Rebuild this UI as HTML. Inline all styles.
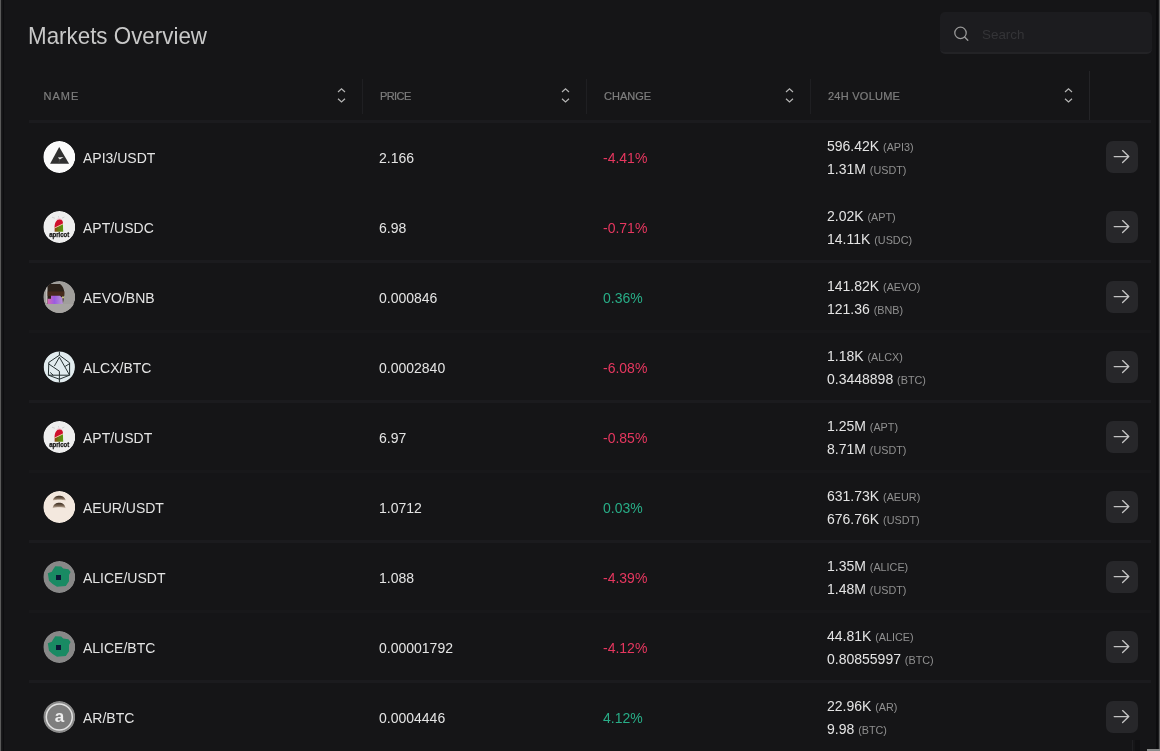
<!DOCTYPE html>
<html><head><meta charset="utf-8"><title>Markets Overview</title>
<style>
*{margin:0;padding:0;box-sizing:border-box}
html,body{width:1160px;height:751px;overflow:hidden;background:#151517}
body{position:relative;font-family:"Liberation Sans",sans-serif;color:#e2e2e2}
.edgeL{position:absolute;left:0;top:0;width:1px;height:751px;background:#5a5a5a}
.edgeL2{position:absolute;left:1px;top:0;width:1px;height:751px;background:#1a1a1c}
.edgeL3{position:absolute;left:3px;top:0;width:1px;height:751px;background:#0d0d0f}
.edgeR{position:absolute;left:1156px;top:0;width:2px;height:751px;background:#0c0c0e}
.edgeR2{position:absolute;left:1158px;top:0;width:1px;height:751px;background:#1a1a1c}
.edgeR3{position:absolute;left:1159px;top:0;width:1px;height:751px;background:#5a5a5a}
h1{position:absolute;left:28.2px;top:21.5px;font-size:24px;font-weight:normal;color:#c8c8c8;line-height:28px;white-space:nowrap;transform:scaleX(.932);transform-origin:0 0}
.search{position:absolute;left:940px;top:12px;width:212px;height:42px;background:#1c1c1f;border-radius:5px;border-bottom:2px solid #232326}
.search svg{position:absolute;left:12.5px;top:14px}
.search span{position:absolute;left:42px;top:14.5px;font-size:13.4px;color:#343437;line-height:16px}
.th{position:absolute;top:90px;font-size:11px;color:#7e7e7e;line-height:12px;letter-spacing:.8px;white-space:nowrap;-webkit-text-stroke:.2px #7e7e7e}
.sort{position:absolute;top:87px}
.vsep{position:absolute;top:79px;width:1px;height:35px;background:#1f1f22}
.vsep.l{top:71px;height:49px;background:#242427}
.hsep{position:absolute;left:29px;width:1122px;height:3px;background:#1b1b1e}
.hsep.f{background:#18181a}
.row{position:absolute;left:0;width:1160px;height:70px}
.ic{position:absolute;left:43px;top:-16px;width:32px;height:32px;clip-path:circle(16px at 16.3px 16px)}
.t{position:absolute;font-size:14px;line-height:16px;white-space:nowrap;color:#e4e4e4}
.pair{left:83px;top:-7px}
.price{left:379px;top:-7px}
.chg{left:603px;top:-7px}
.neg{color:#e6375f}
.pos{color:#28ad87}
.v1{left:827px;top:-19px}
.v2{left:827px;top:4px}
.t small{font-size:10.8px;color:#909090}
.btn{position:absolute;left:1106px;top:-16px;width:32px;height:32px;background:#27272a;border-radius:7px}
.btn svg{position:absolute;left:0;top:0}
</style></head><body>
<div class="edgeL"></div><div class="edgeL2"></div><div class="edgeL3"></div>
<div class="edgeR"></div><div class="edgeR2"></div><div class="edgeR3"></div>
<div style="position:absolute;left:1147px;top:749px;width:13px;height:2px;background:#8a8a8a"></div>
<div style="position:absolute;left:1132px;top:740px;width:1px;height:11px;background:#1f1f22"></div>
<div style="position:absolute;left:1135px;top:740px;width:5px;height:11px;background:#101012"></div>

<h1>Markets Overview</h1>
<div class="search">
<svg width="16" height="16" viewBox="0 0 16 16"><circle cx="7.5" cy="6.9" r="5.7" fill="none" stroke="#9a9a9a" stroke-width="1.25"/><line x1="11.6" y1="11" x2="14.8" y2="14.3" stroke="#9a9a9a" stroke-width="1.35" stroke-linecap="round"/></svg>
<span>Search</span>
</div>

<div class="th" style="left:43.6px;letter-spacing:1px">NAME</div>
<div class="th" style="left:380px;letter-spacing:-.6px">PRICE</div>
<div class="th" style="left:604px;letter-spacing:0">CHANGE</div>
<div class="th" style="left:828px;letter-spacing:.25px">24H VOLUME</div>

<svg class="sort" style="left:337px" width="9" height="17" viewBox="0 0 9 17"><path d="M1 5 L4.5 1.8 L8 5 M1 11.8 L4.5 15 L8 11.8" fill="none" stroke="#b4b4b4" stroke-width="1.2"/></svg>
<svg class="sort" style="left:561px" width="9" height="17" viewBox="0 0 9 17"><path d="M1 5 L4.5 1.8 L8 5 M1 11.8 L4.5 15 L8 11.8" fill="none" stroke="#b4b4b4" stroke-width="1.2"/></svg>
<svg class="sort" style="left:785px" width="9" height="17" viewBox="0 0 9 17"><path d="M1 5 L4.5 1.8 L8 5 M1 11.8 L4.5 15 L8 11.8" fill="none" stroke="#b4b4b4" stroke-width="1.2"/></svg>
<svg class="sort" style="left:1064px" width="9" height="17" viewBox="0 0 9 17"><path d="M1 5 L4.5 1.8 L8 5 M1 11.8 L4.5 15 L8 11.8" fill="none" stroke="#b4b4b4" stroke-width="1.2"/></svg>

<div class="vsep" style="left:362px"></div>
<div class="vsep" style="left:586px"></div>
<div class="vsep" style="left:810px"></div>
<div class="vsep l" style="left:1089px"></div>

<div class="hsep" style="top:120px"></div>
<div class="hsep" style="top:260px"></div>
<div class="hsep f" style="top:330px"></div>
<div class="hsep" style="top:400px"></div>
<div class="hsep f" style="top:470px"></div>
<div class="hsep" style="top:540px"></div>
<div class="hsep f" style="top:610px"></div>
<div class="hsep" style="top:680px"></div>

<!-- ROWS -->
<div class="row" style="top:157px">
<svg class="ic" viewBox="0 0 32 32"><circle cx="16.3" cy="16" r="16" fill="#fafafa"/><path d="M16.2 6.1 L26.1 22.8 L7.1 22.8Z" fill="#2f2f2f"/><path d="M14.8 16.4 L20.6 16 L16.8 18.6Z" fill="#e8e8e8"/><path d="M16.8 18.6 L15.6 22.8" stroke="#555" stroke-width=".6"/></svg>
<div class="t pair">API3/USDT</div>
<div class="t price">2.166</div>
<div class="t chg neg">-4.41%</div>
<div class="t v1">596.42K <small>(API3)</small></div>
<div class="t v2">1.31M <small>(USDT)</small></div>
<div class="btn"><svg width="32" height="32" viewBox="0 0 32 32"><path d="M8.2 15.6 L22.8 15.6 M16.6 9.6 L22.8 15.6 L16.6 21.6" fill="none" stroke="#c4c4c4" stroke-width="1.35" stroke-linecap="round" stroke-linejoin="round"/></svg></div>
</div>
<div class="row" style="top:227px">
<svg class="ic" viewBox="0 0 32 32"><defs><linearGradient id="gP" x1="0" x2="1"><stop offset="0" stop-color="#8a4212"/><stop offset=".45" stop-color="#6a7a14"/><stop offset="1" stop-color="#5a9a10"/></linearGradient></defs><circle cx="16.3" cy="16" r="16" fill="#eeeeee"/><path d="M11.6 17 C11.2 12.6, 13.4 8.6, 16.3 8.3 C18.9 8.3, 20.3 10.4, 19.9 12.8 Z" fill="#d00f2c"/><path d="M13.5 8.8 C15 7.6, 17.5 7.6, 19 8.8" stroke="#f2b8c8" stroke-width=".9" fill="none"/><path d="M11.6 17.2 L19.9 13.1 L20.2 20.7 L11.6 20.7Z" fill="url(#gP)"/><path d="M11.5 17 L20 12.9" stroke="#f3c2a2" stroke-width=".8"/><path d="M9 6.2 L11.8 7.2 M21.4 6 L19 7.2 M15.4 5.2 L15.8 6.6" stroke="#b8b8b8" stroke-width=".6"/><text x="16.2" y="26.3" font-family="Liberation Sans, sans-serif" font-weight="bold" font-size="6.6" text-anchor="middle" textLength="20" lengthAdjust="spacingAndGlyphs" fill="#111" stroke="#111" stroke-width=".25">apricot</text></svg>
<div class="t pair">APT/USDC</div>
<div class="t price">6.98</div>
<div class="t chg neg">-0.71%</div>
<div class="t v1">2.02K <small>(APT)</small></div>
<div class="t v2">14.11K <small>(USDC)</small></div>
<div class="btn"><svg width="32" height="32" viewBox="0 0 32 32"><path d="M8.2 15.6 L22.8 15.6 M16.6 9.6 L22.8 15.6 L16.6 21.6" fill="none" stroke="#c4c4c4" stroke-width="1.35" stroke-linecap="round" stroke-linejoin="round"/></svg></div>
</div>
<div class="row" style="top:297px">
<svg class="ic" viewBox="0 0 32 32"><defs><linearGradient id="gA" x1="0" x2="1"><stop offset="0" stop-color="#d868b0"/><stop offset=".45" stop-color="#9a5ce0"/><stop offset="1" stop-color="#b898d0"/></linearGradient></defs><circle cx="16.3" cy="16" r="16" fill="#a09e9b"/><path d="M4.6 3 L17 3 C20.5 5.5, 21.8 10, 21.2 14 C20.8 18, 20.2 21, 19.8 23 L4.6 23Z" fill="#2a2019"/><path d="M4.6 10.5 L21.3 10.5 L21.2 15 L4.6 15Z" fill="#46291b"/><path d="M4.6 17.8 L8 17.8 L8 14.8 L17 14.8 L19.5 17 L20 23 L4.6 23Z" fill="url(#gA)"/><path d="M1 23 L31 23 L31 32 L1 32Z" fill="#a6a4a1"/><circle cx="20" cy="16.4" r="1.1" fill="#c8c080"/><path d="M3.6 5 L3.6 22" stroke="#c8c6c2" stroke-width=".9"/></svg>
<div class="t pair">AEVO/BNB</div>
<div class="t price">0.000846</div>
<div class="t chg pos">0.36%</div>
<div class="t v1">141.82K <small>(AEVO)</small></div>
<div class="t v2">121.36 <small>(BNB)</small></div>
<div class="btn"><svg width="32" height="32" viewBox="0 0 32 32"><path d="M8.2 15.6 L22.8 15.6 M16.6 9.6 L22.8 15.6 L16.6 21.6" fill="none" stroke="#c4c4c4" stroke-width="1.35" stroke-linecap="round" stroke-linejoin="round"/></svg></div>
</div>
<div class="row" style="top:367px">
<svg class="ic" viewBox="0 0 32 32"><circle cx="16.3" cy="16" r="15.6" fill="#e2ecef"/><g fill="none" stroke="#263132" stroke-width="1" stroke-linejoin="round"><path d="M16.4 4.2 L5.8 11.4 L5.4 24.2 L16.4 28.2 L26.6 24.2 L26.6 11.8 Z"/><path d="M16.4 0.5 L16.4 4.2 M16.4 6.2 L26.6 24.2 M16.4 6.2 L11.4 15 M5.8 13 L16.4 20.2 L16.4 31.5 M5.4 24.2 L26.6 24.2 M7.2 21.4 L10.2 24.2 M22.2 15.4 L26.6 12.6"/></g></svg>
<div class="t pair">ALCX/BTC</div>
<div class="t price">0.0002840</div>
<div class="t chg neg">-6.08%</div>
<div class="t v1">1.18K <small>(ALCX)</small></div>
<div class="t v2">0.3448898 <small>(BTC)</small></div>
<div class="btn"><svg width="32" height="32" viewBox="0 0 32 32"><path d="M8.2 15.6 L22.8 15.6 M16.6 9.6 L22.8 15.6 L16.6 21.6" fill="none" stroke="#c4c4c4" stroke-width="1.35" stroke-linecap="round" stroke-linejoin="round"/></svg></div>
</div>
<div class="row" style="top:437px">
<svg class="ic" viewBox="0 0 32 32"><defs><linearGradient id="gP" x1="0" x2="1"><stop offset="0" stop-color="#8a4212"/><stop offset=".45" stop-color="#6a7a14"/><stop offset="1" stop-color="#5a9a10"/></linearGradient></defs><circle cx="16.3" cy="16" r="16" fill="#eeeeee"/><path d="M11.6 17 C11.2 12.6, 13.4 8.6, 16.3 8.3 C18.9 8.3, 20.3 10.4, 19.9 12.8 Z" fill="#d00f2c"/><path d="M13.5 8.8 C15 7.6, 17.5 7.6, 19 8.8" stroke="#f2b8c8" stroke-width=".9" fill="none"/><path d="M11.6 17.2 L19.9 13.1 L20.2 20.7 L11.6 20.7Z" fill="url(#gP)"/><path d="M11.5 17 L20 12.9" stroke="#f3c2a2" stroke-width=".8"/><path d="M9 6.2 L11.8 7.2 M21.4 6 L19 7.2 M15.4 5.2 L15.8 6.6" stroke="#b8b8b8" stroke-width=".6"/><text x="16.2" y="26.3" font-family="Liberation Sans, sans-serif" font-weight="bold" font-size="6.6" text-anchor="middle" textLength="20" lengthAdjust="spacingAndGlyphs" fill="#111" stroke="#111" stroke-width=".25">apricot</text></svg>
<div class="t pair">APT/USDT</div>
<div class="t price">6.97</div>
<div class="t chg neg">-0.85%</div>
<div class="t v1">1.25M <small>(APT)</small></div>
<div class="t v2">8.71M <small>(USDT)</small></div>
<div class="btn"><svg width="32" height="32" viewBox="0 0 32 32"><path d="M8.2 15.6 L22.8 15.6 M16.6 9.6 L22.8 15.6 L16.6 21.6" fill="none" stroke="#c4c4c4" stroke-width="1.35" stroke-linecap="round" stroke-linejoin="round"/></svg></div>
</div>
<div class="row" style="top:507px">
<svg class="ic" viewBox="0 0 32 32"><defs><linearGradient id="gE" x1="0" y1="0" x2="0" y2="1"><stop offset="0" stop-color="#3a2c20"/><stop offset=".55" stop-color="#7a6654"/><stop offset="1" stop-color="#d6c6b6"/></linearGradient></defs><circle cx="16.3" cy="16" r="16" fill="#f3e8de"/><path d="M9.8 9.6 C10.8 6, 13.4 4.8, 16.2 4.8 C19.1 4.8, 21.8 6, 22.8 9.6 C19.2 8.5, 13.4 8.5, 9.8 9.6Z" fill="url(#gE)"/><path d="M9.6 17.2 C10.6 13, 13.3 11.8, 16.2 11.8 C19.1 11.8, 21.7 13, 22.6 17.2 C19 15.9, 13.3 15.9, 9.6 17.2Z" fill="url(#gE)"/></svg>
<div class="t pair">AEUR/USDT</div>
<div class="t price">1.0712</div>
<div class="t chg pos">0.03%</div>
<div class="t v1">631.73K <small>(AEUR)</small></div>
<div class="t v2">676.76K <small>(USDT)</small></div>
<div class="btn"><svg width="32" height="32" viewBox="0 0 32 32"><path d="M8.2 15.6 L22.8 15.6 M16.6 9.6 L22.8 15.6 L16.6 21.6" fill="none" stroke="#c4c4c4" stroke-width="1.35" stroke-linecap="round" stroke-linejoin="round"/></svg></div>
</div>
<div class="row" style="top:577px">
<svg class="ic" viewBox="0 0 32 32"><circle cx="16.3" cy="16" r="16" fill="#888888"/><path d="M10.2 8.2 L12.3 5.2 L18.2 5.4 L20.2 7.6 L25.4 8.2 L27.6 11 L26 14 L26 20.2 L22.8 25 L14 25.8 L9.6 23 L6 19.8 L4.8 12.3 L8.8 10.8 Z" fill="#198a63"/><rect x="13" y="14" width="5" height="5" fill="#0c1736"/></svg>
<div class="t pair">ALICE/USDT</div>
<div class="t price">1.088</div>
<div class="t chg neg">-4.39%</div>
<div class="t v1">1.35M <small>(ALICE)</small></div>
<div class="t v2">1.48M <small>(USDT)</small></div>
<div class="btn"><svg width="32" height="32" viewBox="0 0 32 32"><path d="M8.2 15.6 L22.8 15.6 M16.6 9.6 L22.8 15.6 L16.6 21.6" fill="none" stroke="#c4c4c4" stroke-width="1.35" stroke-linecap="round" stroke-linejoin="round"/></svg></div>
</div>
<div class="row" style="top:647px">
<svg class="ic" viewBox="0 0 32 32"><circle cx="16.3" cy="16" r="16" fill="#888888"/><path d="M10.2 8.2 L12.3 5.2 L18.2 5.4 L20.2 7.6 L25.4 8.2 L27.6 11 L26 14 L26 20.2 L22.8 25 L14 25.8 L9.6 23 L6 19.8 L4.8 12.3 L8.8 10.8 Z" fill="#198a63"/><rect x="13" y="14" width="5" height="5" fill="#0c1736"/></svg>
<div class="t pair">ALICE/BTC</div>
<div class="t price">0.00001792</div>
<div class="t chg neg">-4.12%</div>
<div class="t v1">44.81K <small>(ALICE)</small></div>
<div class="t v2">0.80855997 <small>(BTC)</small></div>
<div class="btn"><svg width="32" height="32" viewBox="0 0 32 32"><path d="M8.2 15.6 L22.8 15.6 M16.6 9.6 L22.8 15.6 L16.6 21.6" fill="none" stroke="#c4c4c4" stroke-width="1.35" stroke-linecap="round" stroke-linejoin="round"/></svg></div>
</div>
<div class="row" style="top:717px">
<svg class="ic" viewBox="0 0 32 32"><circle cx="16.3" cy="16" r="16" fill="#8a8a8a"/><circle cx="16.3" cy="16" r="13" fill="#7e7e7e" stroke="#e2e2e2" stroke-width="1.5"/><text x="16.5" y="20.8" font-family="Liberation Sans, sans-serif" font-weight="bold" font-size="17" text-anchor="middle" fill="#efefef">a</text></svg>
<div class="t pair">AR/BTC</div>
<div class="t price">0.0004446</div>
<div class="t chg pos">4.12%</div>
<div class="t v1">22.96K <small>(AR)</small></div>
<div class="t v2">9.98 <small>(BTC)</small></div>
<div class="btn"><svg width="32" height="32" viewBox="0 0 32 32"><path d="M8.2 15.6 L22.8 15.6 M16.6 9.6 L22.8 15.6 L16.6 21.6" fill="none" stroke="#c4c4c4" stroke-width="1.35" stroke-linecap="round" stroke-linejoin="round"/></svg></div>
</div>
</body></html>
